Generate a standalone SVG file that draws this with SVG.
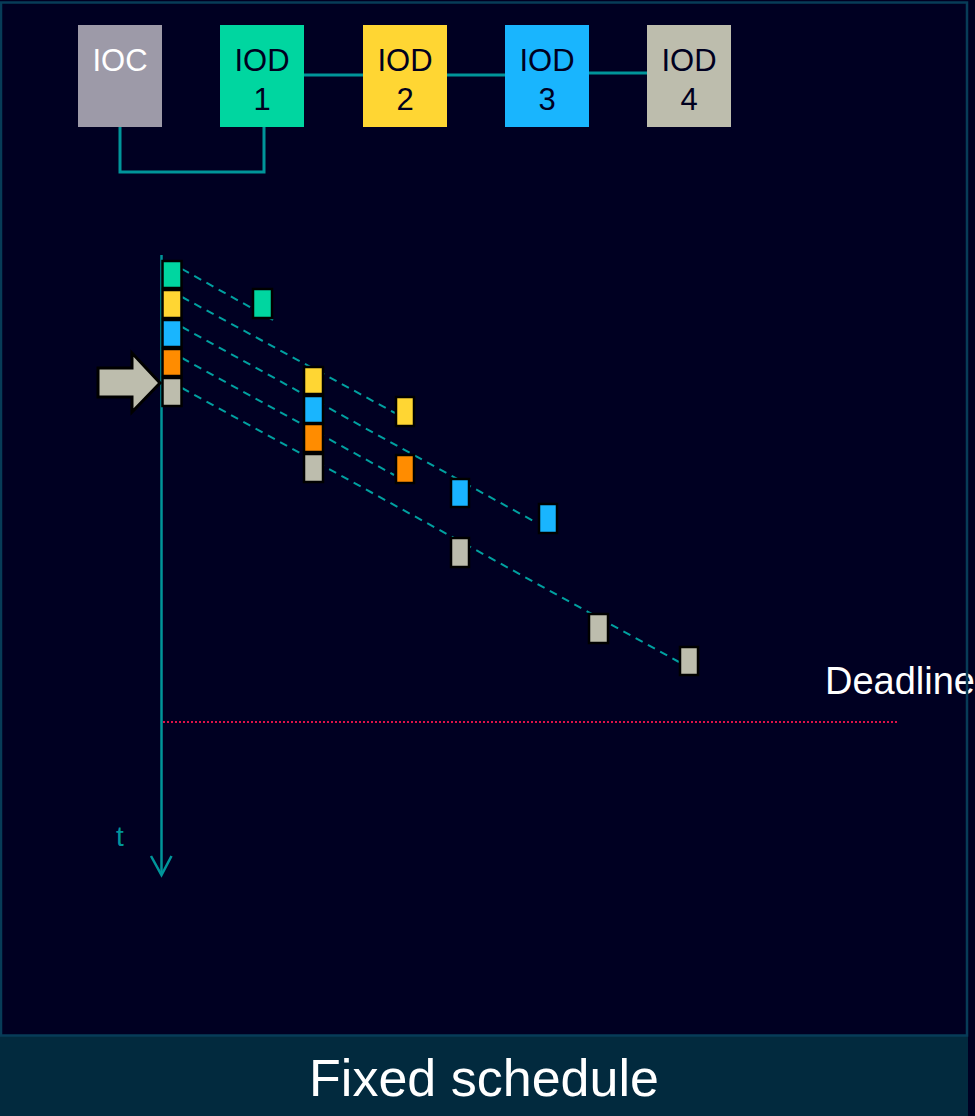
<svg xmlns="http://www.w3.org/2000/svg" width="975" height="1116" viewBox="0 0 975 1116">
<style>
.lbl{font-family:"Liberation Sans",Arial,sans-serif;font-size:31px;text-anchor:middle;fill:#00001f}
.wl{fill:#ffffff}
.link{stroke:#00959a;stroke-width:3;fill:none}
.dash{stroke:#00a0a0;stroke-width:2;stroke-dasharray:8 6;fill:none}
.m{stroke:#000000;stroke-width:2.5}
.g{fill:#00d6a0}.y{fill:#ffd633}.b{fill:#19b5fe}.o{fill:#ff8c00}.s{fill:#bdbdad}
</style>
<rect x="0" y="0" width="975" height="1116" fill="#000022"/>
<rect x="0" y="1035" width="968" height="81" fill="#022a3e"/>
<text x="484" y="1096" font-family="Liberation Sans,Arial,sans-serif" font-size="52" fill="#ffffff" text-anchor="middle">Fixed schedule</text>

<g id="connectors">
<path class="link" d="M304 75 H363 M447 75 H505 M589 73 H647"/>
<path class="link" d="M120 127 V172 H264 V127"/>
<line x1="161.5" y1="255" x2="161.5" y2="875" stroke="#00959a" stroke-width="2.5"/>
<polyline points="151,856 161.5,875 171.5,856" fill="none" stroke="#00959a" stroke-width="2.5"/>
<line class="dash" x1="182" y1="269" x2="273" y2="320"/>
<line class="dash" x1="182" y1="297" x2="395" y2="413"/>
<line class="dash" x1="182" y1="327" x2="537" y2="523"/>
<line class="dash" x1="182" y1="358" x2="394" y2="475"/>
<line class="dash" x1="182" y1="388" x2="679" y2="662"/>
<line x1="163" y1="722" x2="898" y2="722" stroke="#dc1248" stroke-width="2.2" stroke-dasharray="2 2"/>
</g>

<g id="ioc"><rect x="78" y="25" width="84" height="102" fill="#9d9aa8"/><text class="lbl wl" x="120" y="71">IOC</text></g>
<g id="iod1"><rect x="220" y="25" width="84" height="102" fill="#00d6a0"/><text class="lbl" x="262" y="71">IOD</text><text class="lbl" x="262" y="110">1</text></g>
<g id="iod2"><rect x="363" y="25" width="84" height="102" fill="#ffd633"/><text class="lbl" x="405" y="71">IOD</text><text class="lbl" x="405" y="110">2</text></g>
<g id="iod3"><rect x="505" y="25" width="84" height="102" fill="#19b5fe"/><text class="lbl" x="547" y="71">IOD</text><text class="lbl" x="547" y="110">3</text></g>
<g id="iod4"><rect x="647" y="25" width="84" height="102" fill="#bdbdad"/><text class="lbl" x="689" y="71">IOD</text><text class="lbl" x="689" y="110">4</text></g>

<g id="stack1">
<rect class="m g" x="162.5" y="261" width="19" height="27"/>
<rect class="m y" x="162.5" y="290" width="19" height="28"/>
<rect class="m b" x="162.5" y="320" width="19" height="27"/>
<rect class="m o" x="162.5" y="349" width="19" height="27"/>
<rect class="m s" x="162.5" y="378" width="19" height="28"/>
</g>
<g id="arrow"><polygon points="98,368 132,368 132,353 160,383 132,412 132,397 98,397" fill="#bdbdad" stroke="#000000" stroke-width="3"/></g>
<g id="msg-green"><rect class="m g" x="253" y="289" width="19" height="29"/></g>
<g id="stack2">
<rect class="m y" x="304" y="367" width="19" height="27"/>
<rect class="m b" x="304" y="396" width="19" height="27"/>
<rect class="m o" x="304" y="424" width="19" height="28"/>
<rect class="m s" x="304" y="454" width="19" height="28"/>
</g>
<g id="msg-yellow"><rect class="m y" x="396" y="397" width="18" height="29"/></g>
<g id="msg-orange"><rect class="m o" x="396" y="455" width="18" height="28"/></g>
<g id="msg-blue1"><rect class="m b" x="451" y="479" width="18" height="28"/></g>
<g id="msg-blue2"><rect class="m b" x="539" y="504" width="18" height="29"/></g>
<g id="msg-gray1"><rect class="m s" x="451" y="538" width="18" height="29"/></g>
<g id="msg-gray2"><rect class="m s" x="589" y="614" width="19" height="29"/></g>
<g id="msg-gray3"><rect class="m s" x="680" y="647" width="18" height="28"/></g>

<text x="116" y="846" font-family="Liberation Sans,Arial,sans-serif" font-size="28" fill="#00959a">t</text>
<text x="825" y="694" font-family="Liberation Sans,Arial,sans-serif" font-size="38" fill="#ffffff">Deadline</text>

<rect x="1" y="2.5" width="966" height="1033" fill="none" stroke="#073c58" stroke-width="2.5"/>
</svg>
